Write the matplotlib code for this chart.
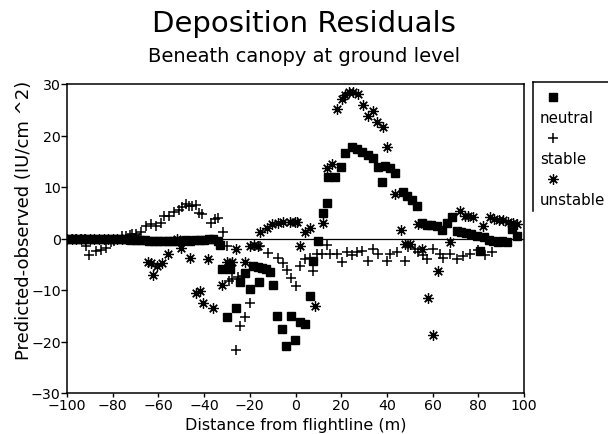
import matplotlib
matplotlib.use("Agg")
import matplotlib.pyplot as plt
from matplotlib.lines import Line2D

plt.rcParams['font.family'] = ['DejaVu Sans']

title = "Deposition Residuals"
subtitle = "Beneath canopy at ground level"
xlabel = "Distance from flightline (m)"
ylabel = "Predicted-observed (IU/cm ^2)"
series_names = ["neutral", "stable", "unstable"]
x_ticks = [-100, -80, -60, -40, -20, 0, 20, 40, 60, 80, 100]
y_ticks = [-30, -20, -10, 0, 10, 20, 30]

neutral_x = [-100, -98, -96, -94, -92, -90, -88, -86, -84, -82, -80, -78, -76, -74, -72, -70,
             -68, -66, -64, -62, -60, -58, -56, -54, -52, -50, -48, -46, -44, -42, -40, -38,
             -36, -34, -33, -32.3, -30.1, -28.7, -26.0, -24.3, -22.1, -19.9, -18.6, -16.6,
             -15.8, -14.6, -12.8, -11.0, -9.7, -8.0, -5.8, -4.2, -2.1, -0.2, 2.0, 4.2, 6.3,
             7.8, 10.0, 12.2, 13.6, 14.4, 17.3, 19.8, 21.7, 24.6, 26.8, 29.0, 31.9, 33.8,
             36.2, 37.7, 39.2, 41.4, 43.5, 47.2, 48.7, 50.9, 53.3, 55.2, 57.4, 59.5, 61.8,
             64.0, 66.2, 68.4, 70.5, 72.6, 74.8, 77.0, 79.3, 80.7, 82.5, 84.5, 86.5, 88.5,
             90.5, 92.4, 94.6, 97.0]
neutral_y = [0, 0, 0, 0, 0, 0, 0, 0, 0, 0, 0, 0, -0.1, -0.1, -0.2, -0.2,
             -0.3, -0.3, -0.4, -0.4, -0.5, -0.4, -0.4, -0.5, -0.5, -0.4, -0.3, -0.4, -0.3, -0.2, -0.2, -0.1,
             -0.1, -0.5, -1.2, -5.9, -15.3, -5.9, -13.5, -8.5, -6.7, -9.9, -5.4, -5.5,
             -8.4, -5.7, -6.0, -6.6, -9.0, -15.0, -17.6, -20.8, -15.1, -19.8, -16.2, -16.6, -11.1,
             -4.3, -0.4, 5.0, 6.9, 11.9, 11.9, 13.8, 16.6, 17.8, 17.4, 16.7, 16.2, 15.7,
             13.8, 10.9, 14.0, 13.6, 12.7, 9.0, 8.2, 7.5, 6.3, 3.0, 2.6, 2.7, 2.4,
             1.7, 3.1, 4.1, 1.5, 1.2, 1.0, 0.8, 0.5, -2.4, 0.3, -0.2, -0.4, -0.6,
             -0.5, -0.7, 1.8, 0.5]

stable_x = [-100, -98, -96, -94, -92, -91.8, -90.4, -87.4, -85.3, -83.1, -80.9, -79.4, -76.0,
            -74.0, -72.5, -71.5, -69.9, -67.7, -65.6, -63.4, -61.2, -59.0, -57.5, -55.4, -53.2,
            -51.0, -49.5, -48.1, -46.6, -45.2, -43.7, -42.2, -40.8, -37.1, -35.2, -33.8, -31.9,
            -30.1, -29.0, -27.9, -26.2, -25.0, -24.3, -23.0, -22.1, -19.9, -15.5, -11.9, -7.5,
            -5.6, -3.9, -2.0, 0.2, 2.0, 4.2, 6.3, 7.8, 9.3, 11.5, 13.6, 15.1, 18.0, 20.2, 22.4,
            24.6, 26.8, 29.0, 31.9, 34.0, 36.2, 39.9, 41.4, 44.3, 47.9, 49.4, 52.3, 53.7, 55.9,
            57.4, 60.3, 63.2, 64.7, 67.6, 70.5, 73.4, 76.4, 80.0, 82.9, 85.9]
stable_y = [0, 0, 0, 0, 0, -1.4, -3.3, -2.4, -2.2, -1.9, -0.7, -0.4, 0.5,
            0.5, 0.7, 0.9, 0.9, 1.2, 2.5, 2.8, 2.5, 3.1, 4.4, 4.4, 5.1,
            5.6, 6.1, 6.7, 6.3, 6.4, 6.5, 5.0, 4.8, 3.1, 3.7, 3.9, 1.3,
            -1.4, -8.2, -7.9, -21.6, -7.5, -16.9, -7.3, -15.3, -12.5, -1.5, -2.8, -3.7,
            -4.8, -6.1, -7.7, -9.3, -5.3, -4.0, -3.7, -6.3, -3.0, -3.0, -1.3, -3.0, -3.0, -4.6, -2.6,
            -3.2, -2.7, -2.4, -4.3, -2.0, -3.0, -4.3, -3.0, -2.7, -4.3, -1.7, -2.0, -2.7, -3.3,
            -3.9, -2.0, -3.0, -3.7, -3.0, -4.0, -3.4, -3.0, -2.2, -3.3, -2.7]

unstable_x = [-100, -98, -96, -94, -92, -90, -88, -86, -84, -82, -80, -78, -76, -74, -72, -70,
              -64.4, -63.4, -62.2, -60.5, -58.4, -56.0, -52.0, -50.0, -46.0, -43.7, -41.8, -40.3,
              -38.3, -36.2, -32.3, -30.1, -27.9, -26.2, -22.1, -19.9, -18.2, -16.6, -15.5, -12.6,
              -10.4, -7.5, -5.3, -2.4, -0.2, 0.7, 2.0, 4.2, 6.3, 8.5, 12.2, 13.6, 15.8, 18.0,
              20.2, 21.7, 23.5, 25.3, 27.5, 29.7, 31.9, 34.0, 35.8, 38.2, 39.9, 43.5, 46.0, 47.9,
              50.1, 53.7, 55.2, 58.1, 60.0, 62.5, 67.6, 72.0, 74.2, 75.6, 77.8, 82.2, 85.1, 87.0,
              89.0, 91.0, 93.0, 95.0, 97.0]
unstable_y = [0, 0, 0, 0, 0, 0, 0, 0, 0, 0, 0, 0, 0, 0, 0, 0.2,
              -4.6, -4.8, -7.1, -5.4, -4.7, -3.0, -0.1, -1.9, -3.7, -10.6, -10.1, -12.5,
              -4.0, -13.4, -9.0, -4.6, -4.6, -2.0, -4.6, -1.4, -1.3, -1.4, 1.2, 2.0,
              2.8, 3.1, 3.2, 3.2, 3.2, 3.3, -1.4, 1.2, 2.0, -13.2, 3.0, 13.6, 14.5, 25.1,
              27.1, 27.9, 28.5, 28.4, 28.1, 25.9, 23.8, 24.8, 22.6, 21.6, 17.7, 8.6, 1.7, -1.1,
              -1.1, 2.8, -2.0, -11.5, -18.7, -6.4, -0.7, 5.4, 4.3, 4.4, 4.1, 2.5, 4.2, 3.8,
              3.5, 3.6, 3.2, 3.0, 2.8]

W, H = 608, 435
fig = plt.figure(figsize=(W / 100, H / 100), dpi=100)
fig.patch.set_facecolor('white')

ax = fig.add_axes([67 / W, 1 - 394 / H, (524 - 67) / W, (394 - 85) / H])
ax.set_facecolor('white')

sq = dict(marker='s', markersize=6.2, color='black', linestyle='none')
pl = dict(marker='+', markersize=7.5, markeredgewidth=1.1, color='black', linestyle='none')
st = dict(marker=(8, 2, 0), markersize=7.5, markeredgewidth=0.9, color='black', linestyle='none')

ax.axhline(0, color='black', lw=0.9, zorder=1)
ax.plot(neutral_x, neutral_y, zorder=2, **sq)
ax.plot(stable_x, stable_y, zorder=3, **pl)
ax.plot(unstable_x, unstable_y, zorder=4, **st)

ax.set_xlim(-100, 100)
ax.set_ylim(-30, 30)
ax.set_xticks(x_ticks)
ax.set_yticks(y_ticks)
ax.tick_params(axis='both', direction='out', labelsize=10.2, width=1, color='black')
ax.tick_params(axis='y', length=4, pad=0.5)
ax.tick_params(axis='x', length=3, pad=0.5)
for s in ax.spines.values():
    s.set_linewidth(1.1)
    s.set_color('black')

# overlay in pixel coordinates for titles, labels and legend
ov = fig.add_axes([0, 0, 1, 1], facecolor='none')
ov.set_xlim(0, W)
ov.set_ylim(H, 0)
ov.axis('off')

ov.text(304, 32, title, fontsize=21, ha='center', va='baseline')
ov.text(304, 62, subtitle, fontsize=14, ha='center', va='baseline')
ov.text(296, 430, xlabel, fontsize=11.5, ha='center', va='baseline')
ov.text(24, 220, ylabel, fontsize=13, rotation=90, ha='center', va='center')

# legend box (top and left edges visible, rest runs off the figure)
ov.add_line(Line2D([533, 612], [83, 83], color='black', lw=1.1))
ov.add_line(Line2D([533, 533], [83, 212], color='black', lw=1.1))
legend_marker_y = [98, 139, 180]
legend_text_y = [123, 164, 205]
for name, style, my, ty in zip(series_names, [sq, pl, st], legend_marker_y, legend_text_y):
    ov.add_line(Line2D([553], [my], **style))
    ov.text(540, ty, name, fontsize=10.8, ha='left', va='baseline')

fig.savefig("out.png", dpi=100)
